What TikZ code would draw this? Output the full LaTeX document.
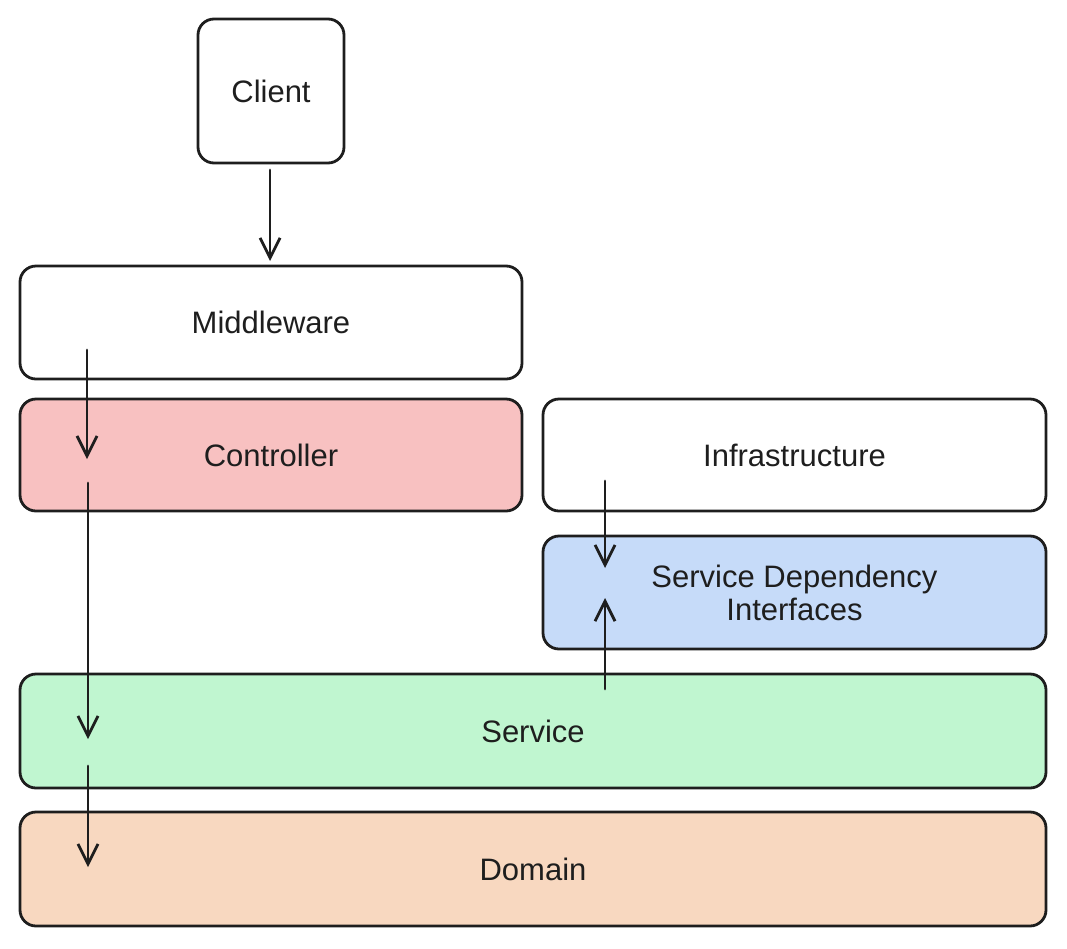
\documentclass[tikz,border=0pt]{standalone}
\usepackage{fontspec}
\setmainfont{Liberation Sans}
\usetikzlibrary{arrows.meta}
\definecolor{ink}{HTML}{1E1E1E}
\definecolor{ctrlfill}{HTML}{F8C1C1}
\definecolor{sdifill}{HTML}{C6DBF9}
\definecolor{svcfill}{HTML}{C0F6D0}
\definecolor{domfill}{HTML}{F8D8C0}
\tikzset{
  layer/.style={draw=ink, line width=2.8pt, rounded corners=16pt, align=center,
    inner sep=0pt, text=ink, font=\fontsize{31}{36}\selectfont},
  flow/.style={draw=ink, line width=2.8pt, line cap=round,
    -{Straight Barb[length=20pt,width=20pt,line width=2.8pt]}},
}
\begin{document}
\begin{tikzpicture}[x=1pt,y=-1pt]
\useasboundingbox (0,0) rectangle (1067,948);
\node[layer, minimum width=146pt, minimum height=144pt] (client) at (271,91) {Client};
\node[layer, minimum width=502pt, minimum height=113pt] (mw) at (271,322.5) {Middleware};
\node[layer, fill=ctrlfill, minimum width=502pt, minimum height=112pt] (ctrl) at (271,455) {Controller};
\node[layer, minimum width=503pt, minimum height=112pt] (infra) at (794.5,455) {Infrastructure};
\node[layer, fill=sdifill, minimum width=503pt, minimum height=113pt] (sdi) at (794.5,592.5) {Service Dependency\\[-3pt]Interfaces};
\node[layer, fill=svcfill, minimum width=1026pt, minimum height=114pt] (svc) at (533,731) {Service};
\node[layer, fill=domfill, minimum width=1026pt, minimum height=114pt] (dom) at (533,869) {Domain};
% connector end points
\coordinate (c1) at (270,170);
\coordinate (c2) at (270,261);
\coordinate (m1) at (87,350);
\coordinate (m2) at (87,459);
\coordinate (k1) at (88,483);
\coordinate (k2) at (88,739);
\coordinate (s1) at (88,766);
\coordinate (s2) at (88,867);
\coordinate (i1) at (605,481);
\coordinate (i2) at (605,568);
\coordinate (v1) at (605,689);
\coordinate (v2) at (605,598);
\draw[flow] (c1) -- (c2);
\draw[flow] (m1) -- (m2);
\draw[flow] (k1) -- (k2);
\draw[flow] (s1) -- (s2);
\draw[flow] (i1) -- (i2);
\draw[flow] (v1) -- (v2);
\end{tikzpicture}
\end{document}
